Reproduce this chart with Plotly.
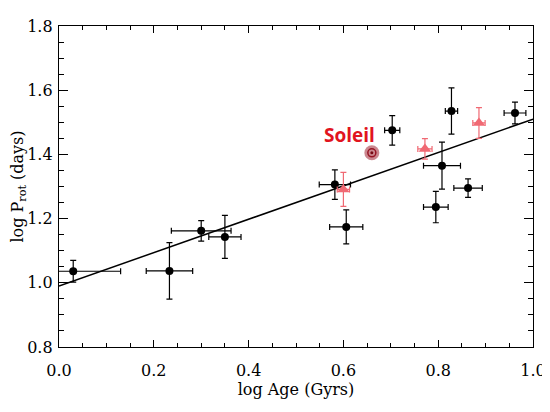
import plotly.graph_objects as go

# Black points: log Age, log Prot with errors
age = [0.03, 0.233, 0.300, 0.350, 0.582, 0.606, 0.703, 0.795, 0.808, 0.828, 0.863, 0.962]
prot = [1.036, 1.037, 1.162, 1.143, 1.306, 1.174, 1.475, 1.236, 1.365, 1.535, 1.295, 1.529]
age_err = [0.10, 0.049, 0.063, 0.034, 0.033, 0.035, 0.016, 0.026, 0.039, 0.013, 0.030, 0.023]
prot_err = [0.034, 0.088, 0.032, 0.067, 0.046, 0.053, 0.046, 0.049, 0.073, 0.072, 0.029, 0.034]

# Red triangles
age_red = [0.600, 0.772, 0.886]
prot_red = [1.291, 1.417, 1.498]
age_red_err = [0.013, 0.015, 0.013]
prot_red_err = [0.053, 0.032, 0.048]

# Sun
sun_age = [0.66]
sun_prot = [1.405]
sun_label = "Soleil"

# Fit line
fit_x = [0.0, 1.0]
fit_y = [0.99, 1.51]

x_ticks = [0.0, 0.2, 0.4, 0.6, 0.8, 1.0]
x_ticktext = ["0.0", "0.2", "0.4", "0.6", "0.8", "1.0"]
y_ticks = [0.8, 1.0, 1.2, 1.4, 1.6, 1.8]
y_ticktext = ["0.8", "1.0", "1.2", "1.4", "1.6", "1.8"]
x_range = [0, 1.0]
y_range = [0.8, 1.8]

RED = "rgb(240,105,115)"

fig = go.Figure()

fig.add_trace(go.Scatter(
    x=fit_x, y=fit_y, mode="lines",
    line=dict(color="black", width=1.5), showlegend=False, hoverinfo="skip"))

fig.add_trace(go.Scatter(
    x=age, y=prot, mode="markers",
    marker=dict(symbol="circle", size=8, color="black"),
    error_x=dict(type="data", array=age_err, color="black", thickness=1.2, width=3),
    error_y=dict(type="data", array=prot_err, color="black", thickness=1.2, width=3),
    showlegend=False))

fig.add_trace(go.Scatter(
    x=age_red, y=prot_red, mode="markers",
    marker=dict(symbol="triangle-up", size=11, color=RED),
    error_x=dict(type="data", array=age_red_err, color=RED, thickness=1.2, width=3),
    error_y=dict(type="data", array=prot_red_err, color=RED, thickness=1.2, width=3),
    showlegend=False))

# Sun symbol: glow, ring, dot
fig.add_trace(go.Scatter(
    x=sun_age, y=sun_prot, mode="markers",
    marker=dict(symbol="circle", size=15, color="rgba(185,95,105,0.75)",
                line=dict(width=0)),
    showlegend=False))
fig.add_trace(go.Scatter(
    x=sun_age, y=sun_prot, mode="markers",
    marker=dict(symbol="circle-open", size=8, color="rgb(150,20,35)",
                line=dict(width=1.5, color="rgb(150,20,35)")),
    showlegend=False))
fig.add_trace(go.Scatter(
    x=sun_age, y=sun_prot, mode="markers",
    marker=dict(symbol="circle", size=3, color="rgb(120,10,20)"),
    showlegend=False))

# invisible trace to activate mirror axes (top / right)
fig.add_trace(go.Scatter(
    x=x_range, y=y_range, xaxis="x2", yaxis="y2", mode="markers",
    marker=dict(opacity=0), showlegend=False, hoverinfo="skip"))

fig.add_annotation(
    x=sun_age[0] - 0.047, y=sun_prot[0] + 0.057, text="<b>" + sun_label + "</b>",
    showarrow=False, font=dict(family="Open Sans", size=19, color="rgb(225,20,30)"),
    xanchor="center", yanchor="middle")

tickfont = dict(family="DejaVu Serif", size=16, color="black")
common = dict(showline=True, linecolor="black", linewidth=1.3,
              ticks="inside", tickcolor="black", tickwidth=1.2,
              showgrid=False, zeroline=False, automargin=False)

fig.update_layout(
    width=542, height=404,
    margin=dict(l=51, r=17, t=18, b=65),
    plot_bgcolor="white", paper_bgcolor="white",
    showlegend=False,
    xaxis=dict(
        range=x_range, tickvals=x_ticks, ticktext=x_ticktext, ticklen=7,
        tickfont=tickfont, ticklabelstandoff=9,
        minor=dict(dtick=0.05, ticks="inside", ticklen=4, tickcolor="black", tickwidth=1.2, showgrid=False),
        title=dict(text="log Age (Gyrs)", font=tickfont, standoff=0),
        **common),
    yaxis=dict(
        range=y_range, tickvals=y_ticks, ticktext=y_ticktext, ticklen=9,
        tickfont=tickfont, ticklabelstandoff=2,
        minor=dict(dtick=0.05, ticks="inside", ticklen=5, tickcolor="black", tickwidth=1.2, showgrid=False),
        title=dict(text="log P<sub>rot</sub> (days)", font=tickfont, standoff=12),
        **common),
    xaxis2=dict(
        range=x_range, overlaying="x", side="top", anchor="y2",
        tickvals=x_ticks, ticklen=7, showticklabels=False,
        minor=dict(dtick=0.05, ticks="inside", ticklen=4, tickcolor="black", tickwidth=1.2, showgrid=False),
        **common),
    yaxis2=dict(
        range=y_range, overlaying="y", side="right", anchor="x2",
        tickvals=y_ticks, ticklen=9, showticklabels=False,
        minor=dict(dtick=0.05, ticks="inside", ticklen=5, tickcolor="black", tickwidth=1.2, showgrid=False),
        **common),
)

fig.write_html("out.html")
